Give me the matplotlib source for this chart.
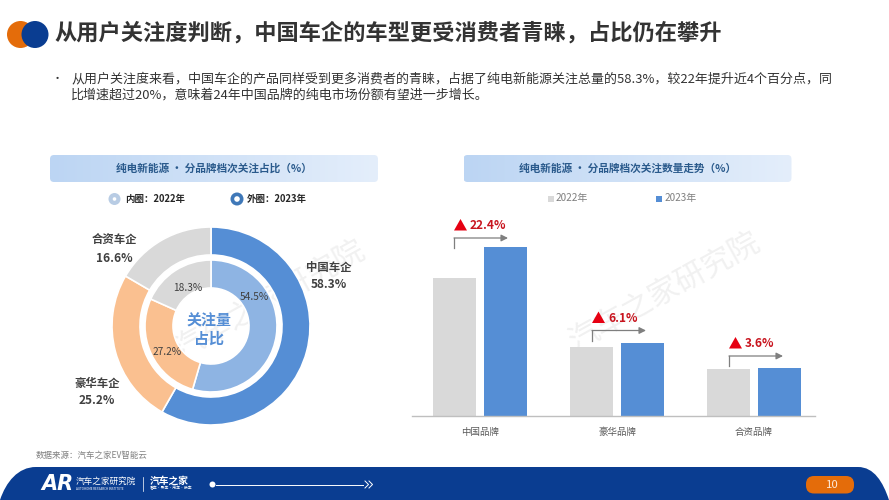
import numpy as np
import matplotlib
matplotlib.use('Agg')
import matplotlib.pyplot as plt
from matplotlib.patches import FancyBboxPatch, Circle, Rectangle, PathPatch, Polygon
from matplotlib.path import Path

plt.rcParams['font.family'] = ['Noto Sans CJK SC', 'DejaVu Sans']

W, H = 889, 500

# donut data
share_names = ['中国车企', '豪华车企', '合资车企']
share_2022 = [54.5, 27.2, 18.3]
share_2023 = [58.3, 25.2, 16.6]

# bar data (no axis printed in the reference)
brands = ['中国品牌', '豪华品牌', '合资品牌']
attention_2022 = [137.5, 68.5, 46.5]
attention_2023 = [168.5, 72.5, 48.0]
growth_labels = ['22.4%', '6.1%', '3.6%']

title = '从用户关注度判断，中国车企的车型更受消费者青睐，占比仍在攀升'
body_1 = '从用户关注度来看，中国车企的产品同样受到更多消费者的青睐，占据了纯电新能源关注总量的58.3%，较22年提升近4个百分点，同'
body_2 = '比增速超过20%，意味着24年中国品牌的纯电市场份额有望进一步增长。'

BLUE = '#558ed5'
LIGHT_BLUE = '#8eb4e3'
ORANGE = '#fac090'
GREY = '#d9d9d9'
NAVY = '#0a3d91'
TEXT = '#404040'

fig = plt.figure(figsize=(W / 100, H / 100), dpi=100, facecolor='white')


def axes_px(x0, y0, x1, y1):
    # pixel box, y measured from the top
    return fig.add_axes([x0 / W, 1 - y1 / H, (x1 - x0) / W, (y1 - y0) / H])


def overlay(zorder):
    ax = axes_px(0, 0, W, H)
    ax.set_xlim(0, W)
    ax.set_ylim(H, 0)
    ax.axis('off')
    ax.patch.set_alpha(0)
    ax.set_zorder(zorder)
    return ax


bg = overlay(0)
top = overlay(3)

# title + bullets
bg.add_patch(Circle((20.5, 34.5), 13.5, color='#e46c0a', lw=0))
bg.add_patch(Circle((35, 34.5), 13.5, color=NAVY, lw=0))
bg.text(54, 33, title, fontsize=16, fontweight='bold', color='#333333', va='center')
bg.text(57, 79, '•', fontsize=8, color='#333333', va='center', ha='center')
bg.text(71, 79, body_1, fontsize=9.35, color='#333333', va='center')
bg.text(71, 95.5, body_2, fontsize=9.35, color='#333333', va='center')

# header pills
grad = np.linspace(0, 1, 256).reshape(1, -1)
cmap = matplotlib.colors.LinearSegmentedColormap.from_list('pill', ['#bcd5f3', '#e4eefb'])
headers = [(50, 378, '纯电新能源 • 分品牌档次关注占比（%）'), (463.5, 791.5, '纯电新能源 • 分品牌档次关注数量走势（%）')]
for x0, x1, label in headers:
    pill = FancyBboxPatch((x0, 155), x1 - x0, 27, boxstyle='round,pad=0,rounding_size=4', lw=0, fc='none')
    bg.add_patch(pill)
    im = bg.imshow(grad, extent=(x0, x1, 182, 155), cmap=cmap, aspect='auto', zorder=1)
    im.set_clip_path(pill)
    bg.text((x0 + x1) / 2, 168.5, label, fontsize=7.7, fontweight='bold', color='#2a5a8c',
            ha='center', va='center', zorder=2)
bg.set_xlim(0, W)
bg.set_ylim(H, 0)

# donut legend
bg.add_patch(Circle((114.5, 199), 6, color='#b8cce4', lw=0))
bg.add_patch(Circle((114.5, 199), 1.8, color='white', lw=0))
bg.text(125, 199, '内圈：2022年', fontsize=6.8, fontweight='bold', color='#262626', va='center')
bg.add_patch(Circle((237, 199), 6.5, color='#3f78b8', lw=0))
bg.add_patch(Circle((237, 199), 2.8, color='white', lw=0))
bg.text(247, 199, '外圈：2023年', fontsize=6.8, fontweight='bold', color='#262626', va='center')

# watermarks
bg.text(270, 300, '汽车之家研究院', fontsize=22, color='#888888', alpha=0.12, rotation=29,
        ha='center', va='center', zorder=0.5)
bg.text(665, 292, '汽车之家研究院', fontsize=22, color='#888888', alpha=0.12, rotation=29,
        ha='center', va='center', zorder=0.5)

# donut
ax_d = axes_px(211 - 110, 326 - 110, 211 + 110, 326 + 110)
ax_d.patch.set_alpha(0)
ax_d.set_zorder(1)
ax_d.pie(share_2023, radius=99, colors=[BLUE, ORANGE, GREY], startangle=90, counterclock=False,
         wedgeprops=dict(width=28, edgecolor='white', linewidth=1.2))
ax_d.pie(share_2022, radius=66, colors=[LIGHT_BLUE, ORANGE, GREY], startangle=90, counterclock=False,
         wedgeprops=dict(width=28, edgecolor='white', linewidth=1.2))
ax_d.set_xlim(-110, 110)
ax_d.set_ylim(-110, 110)
ax_d.set_aspect('equal')
ax_d.axis('off')

top.text(209, 321, '关注量', fontsize=10.8, fontweight='bold', color=BLUE, ha='center', va='center')
top.text(209, 339, '占比', fontsize=10.8, fontweight='bold', color=BLUE, ha='center', va='center')
inner_pos = [(254.5, 297.5), (167.5, 352), (188, 288)]
for val, (x, y) in zip(share_2022, inner_pos):
    top.text(x, y, f'{val}%', fontsize=7.3, color=TEXT, ha='center', va='center')
outer_pos = [(329, 267), (97, 383), (114, 240)]
for name, val, (x, y) in zip(share_names, share_2023, outer_pos):
    top.text(x, y, name, fontsize=8.2, fontweight='bold', color=TEXT, ha='center', va='center')
    top.text(x, y + 18, f'{val}%', fontsize=8.6, fontweight='bold', color=TEXT, ha='center', va='center')

# bars: y units are pixels above the baseline
ax_b = axes_px(412, 215, 815, 415.5)
ax_b.patch.set_alpha(0)
ax_b.set_zorder(2)
xs = np.arange(3)
ax_b.bar(xs - 0.188, attention_2022, 0.314, color=GREY)
ax_b.bar(xs + 0.188, attention_2023, 0.314, color=BLUE)
ax_b.set_xlim(-0.496, 2.445)
ax_b.set_ylim(0, 200.5)
ax_b.set_xticks(xs)
ax_b.set_xticklabels(brands, fontsize=6.8, color='#595959', va='baseline')
ax_b.set_yticks([])
ax_b.tick_params(axis='x', length=0, pad=14)
for s in ['top', 'left', 'right']:
    ax_b.spines[s].set_visible(False)
ax_b.spines['bottom'].set_color('#bfbfbf')
ax_b.spines['bottom'].set_linewidth(1)

# bar legend
top.add_patch(Rectangle((548, 195.5), 6, 6, color=GREY, lw=0))
top.text(556, 198.5, '2022年', fontsize=7.2, color='#7f7f7f', va='center')
top.add_patch(Rectangle((656, 195.5), 6, 6, color=BLUE, lw=0))
top.text(664.5, 198.5, '2023年', fontsize=7.2, color='#7f7f7f', va='center')

# growth arrows
arrow_x = [454, 592, 729]
arrow_y = [238, 330.5, 356]
for x, y, label in zip(arrow_x, arrow_y, growth_labels):
    top.plot([x, x], [y + 10, y], color='#7f7f7f', lw=0.9)
    top.annotate('', xy=(x + 54, y), xytext=(x, y),
                 arrowprops=dict(arrowstyle='-|>,head_width=0.2,head_length=0.4', color='#7f7f7f', lw=0.9,
                                 shrinkA=0, shrinkB=0))
    top.add_patch(Polygon([(x, y - 7.5), (x + 13, y - 7.5), (x + 6.5, y - 19)], closed=True, color='#e60012', lw=0))
    top.text(x + 16, y - 12.5, label, fontsize=8.6, fontweight='bold', color='#c8141e', va='center')

# source + footer
top.text(36, 455.5, '数据来源：汽车之家EV智能云', fontsize=6.1, color='#808080', va='center')
verts = [(0, 500), (6, 482), (18, 467), (36, 467), (858, 467), (874, 467), (883, 482), (889, 500), (0, 500)]
codes = [Path.MOVETO, Path.CURVE4, Path.CURVE4, Path.CURVE4, Path.LINETO, Path.CURVE4, Path.CURVE4, Path.CURVE4, Path.CLOSEPOLY]
top.add_patch(PathPatch(Path(verts, codes), fc=NAVY, ec='none'))
top.text(57.5, 484, 'AR', fontsize=15, fontweight='bold', fontstyle='italic', color='white',
         ha='center', va='center', family='DejaVu Sans')
top.text(76, 481.7, '汽车之家研究院', fontsize=6.2, color='white', va='center')
top.text(76, 488.5, 'AUTOHOME RESEARCH INSTITUTE', fontsize=2.2, color='white', va='center')
top.plot([143, 143], [477, 491], color='white', lw=0.5)
top.text(149.5, 481, '汽车之家', fontsize=7, fontweight='bold', color='white', va='center')
top.text(150, 488.5, '看车·买车·用车·换车', fontsize=2.8, color='white', va='center')
top.plot([216, 363], [484.5, 484.5], color='white', lw=0.7)
top.add_patch(Circle((212.5, 484.5), 3, fc='white', ec='none'))
top.plot([365, 368.5, 365], [481, 484.5, 488], color='white', lw=0.7)
top.plot([369, 372.5, 369], [481, 484.5, 488], color='white', lw=0.7)
top.add_patch(FancyBboxPatch((806, 476), 48, 17.5, boxstyle='round,pad=0,rounding_size=8', fc='#e46c0a', ec='none'))
top.text(832, 485, '10', fontsize=8.2, color='#fde9d9', ha='center', va='center')

fig.savefig('out.png', dpi=100)
